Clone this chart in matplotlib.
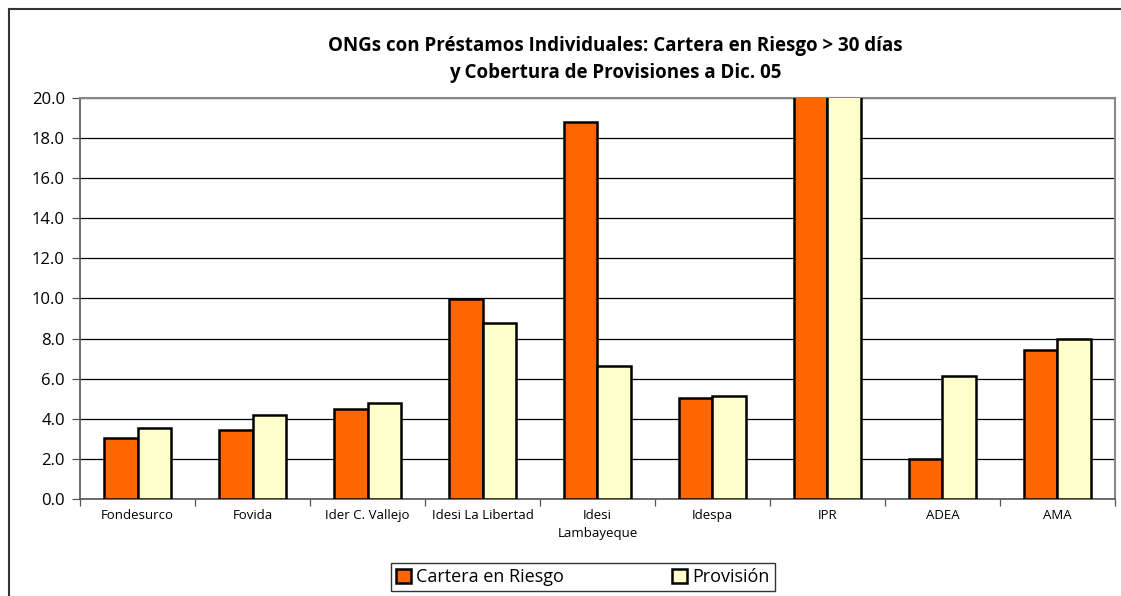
import numpy as np
import matplotlib.pyplot as plt
from matplotlib.lines import Line2D

plt.rcParams['font.family'] = ['Open Sans', 'DejaVu Sans']

ongs = ['Fondesurco', 'Fovida', 'Ider C. Vallejo', 'Idesi La Libertad',
        'Idesi\nLambayeque', 'Idespa', 'IPR', 'ADEA', 'AMA']
cartera = [3.05, 3.45, 4.48, 9.95, 18.78, 5.06, 24.0, 2.0, 7.42]
provision = [3.55, 4.18, 4.80, 8.78, 6.65, 5.12, 26.0, 6.15, 7.98]
yticks = np.arange(0, 20.1, 2.0)

fig = plt.figure(figsize=(11.21, 5.96), dpi=100)
ax = fig.add_axes([0.0714, 0.1628, 0.9232, 0.6728])

x = np.arange(len(ongs))
w = 0.29
ax.bar(x - w / 2, cartera, w, color='#ff6600', edgecolor='black', linewidth=1.8, zorder=3,
       label='Cartera en Riesgo')
ax.bar(x + w / 2, provision, w, color='#ffffcc', edgecolor='black', linewidth=1.8, zorder=3,
       label='Provisión')

ax.set_xlim(-0.5, len(ongs) - 0.5)
ax.set_ylim(0, 20)
ax.set_yticks(yticks)
ax.set_yticklabels([f'{v:.1f}' for v in yticks], fontsize=12)
ax.yaxis.grid(True, color='black', linewidth=0.9, zorder=0)
ax.tick_params(axis='y', length=6, width=0.9, color='#555555', pad=5)

ax.set_xticks(x)
ax.set_xticklabels(ongs, fontsize=9.5, linespacing=1.55)
ax.set_xticks(np.arange(-0.5, len(ongs), 1.0), minor=True)
ax.tick_params(axis='x', which='major', length=0, pad=7)
ax.tick_params(axis='x', which='minor', length=5, width=0.9, color='#555555')

for s in ['top', 'right']:
    ax.spines[s].set_color('#888888')
    ax.spines[s].set_linewidth(1.5)
for s in ['left', 'bottom']:
    ax.spines[s].set_color('#555555')
    ax.spines[s].set_linewidth(1.2)

fig.text(0.5486, 0.9, 'ONGs con Préstamos Individuales: Cartera en Riesgo > 30 días\n'
         'y Cobertura de Provisiones a Dic. 05', ha='center', va='center',
         fontsize=13.5, fontweight='bold', linespacing=1.45)

leg = fig.legend(loc='center', bbox_to_anchor=(0.52, 0.032), ncol=2, fontsize=13,
                 frameon=True, fancybox=False, edgecolor='black', handlelength=0.8,
                 handleheight=0.8, columnspacing=6.0, handletextpad=0.3,
                 borderpad=0.3, borderaxespad=0)
leg.get_frame().set_linewidth(1.0)

# outer chart border (top and left)
fig.add_artist(Line2D([0.008, 0.008], [0.985, 0.0], color='#333333', linewidth=1.5))
fig.add_artist(Line2D([0.008, 1.0], [0.985, 0.985], color='#333333', linewidth=1.5))

fig.savefig('out.png', dpi=100)
